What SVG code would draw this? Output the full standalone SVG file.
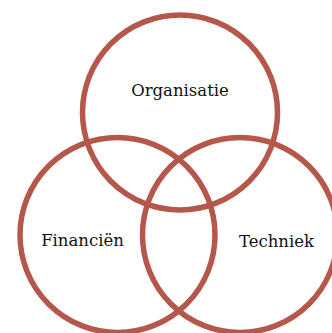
<svg xmlns="http://www.w3.org/2000/svg" width="332" height="333" viewBox="0 0 332 333">
<style>
.c{fill:none;stroke:#b5574a;stroke-width:5.5}
.t{font-family:"DejaVu Serif","Liberation Serif",serif;font-size:16.5px;fill:#111;text-anchor:middle}
</style>
<rect width="332" height="333" fill="#fff"/>
<g id="organisatie">
<circle class="c" cx="180" cy="112.5" r="97.5"/>
<text class="t" x="180" y="96">Organisatie</text>
</g>
<g id="financien">
<circle class="c" cx="117.5" cy="235" r="97.5"/>
<text class="t" x="82.5" y="246">Financiën</text>
</g>
<g id="techniek">
<circle class="c" cx="240" cy="235" r="97.5"/>
<text class="t" x="276.5" y="246.5">Techniek</text>
</g>
<g id="connectors"></g>
</svg>
